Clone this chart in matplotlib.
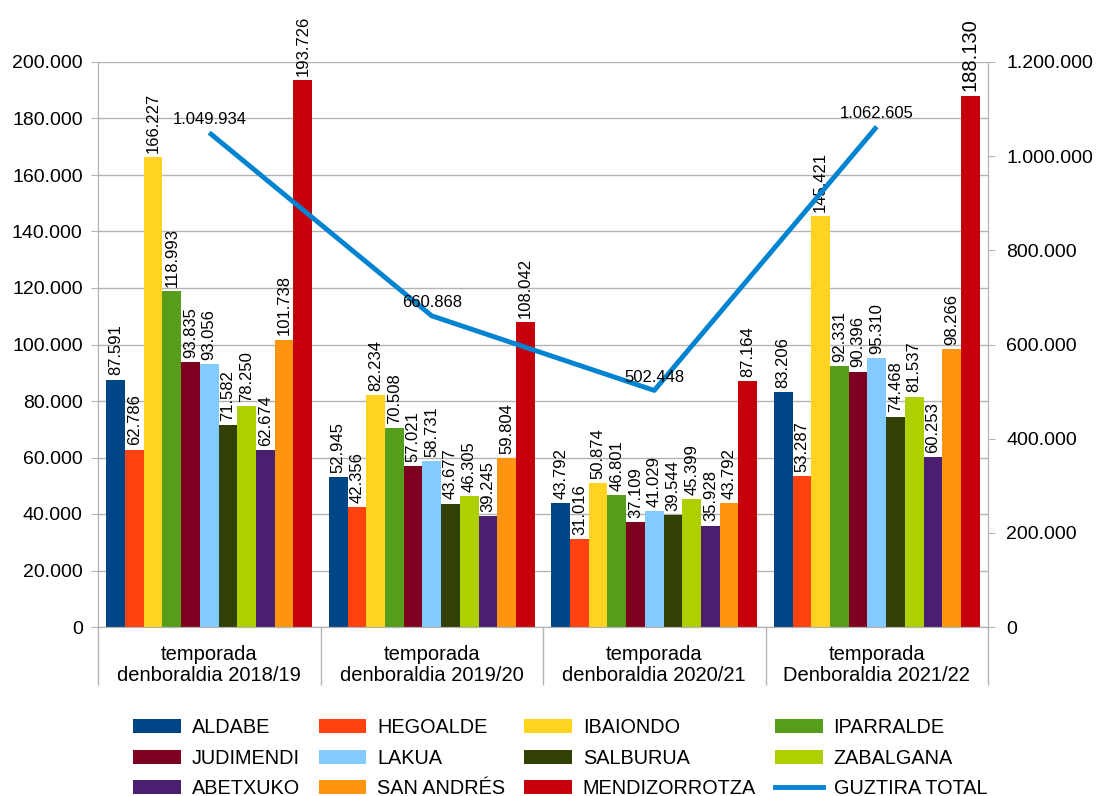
import matplotlib
matplotlib.use("Agg")
import matplotlib.pyplot as plt
import numpy as np
from matplotlib.ticker import FuncFormatter, FixedLocator
from matplotlib.patches import Patch
from matplotlib.lines import Line2D

plt.rcParams['font.family'] = ['Liberation Sans', 'DejaVu Sans']

categories = ["temporada\ndenboraldia 2018/19", "temporada\ndenboraldia 2019/20",
              "temporada\ndenboraldia 2020/21", "temporada\nDenboraldia 2021/22"]
series_names = ["ALDABE", "HEGOALDE", "IBAIONDO", "IPARRALDE", "JUDIMENDI", "LAKUA",
                "SALBURUA", "ZABALGANA", "ABETXUKO", "SAN ANDRÉS", "MENDIZORROTZA"]
colors = ["#004586", "#ff420e", "#ffd320", "#579d1c", "#7e0021", "#83caff",
          "#314004", "#aecf00", "#4b1f6f", "#ff950e", "#c5000b"]
values = [
    [87591, 52945, 43792, 83206],    # ALDABE
    [62786, 42356, 31016, 53287],    # HEGOALDE
    [166227, 82234, 50874, 145421],  # IBAIONDO
    [118993, 70508, 46801, 92331],   # IPARRALDE
    [93835, 57021, 37109, 90396],    # JUDIMENDI
    [93056, 58731, 41029, 95310],    # LAKUA
    [71582, 43677, 39544, 74468],    # SALBURUA
    [78250, 46305, 45399, 81537],    # ZABALGANA
    [62674, 39245, 35928, 60253],    # ABETXUKO
    [101738, 59804, 43792, 98266],   # SAN ANDRÉS
    [193726, 108042, 87164, 188130], # MENDIZORROTZA
]
total_name = "GUZTIRA TOTAL"
total_color = "#0084d1"
totals = [1049934, 660868, 502448, 1062605]

def fmt(v):
    return f"{int(v):,}".replace(",", ".")

grid_c = "#b3b3b3"
fig = plt.figure(figsize=(10.96, 7.96), dpi=100)
ax = fig.add_axes([98/1096, 1-627/796, 890/1096, 565/796])
ax2 = ax.twinx()

n = len(series_names)
x = np.arange(len(categories))
group_w = 0.925
bw = group_w / n
for i, (name, col, vals) in enumerate(zip(series_names, colors, values)):
    xs = x - group_w/2 + bw*(i+0.5)
    ax.bar(xs, vals, width=bw, color=col, zorder=2)
    for xi, v, ci in zip(xs, vals, range(len(vals))):
        fs = 14.5 if (i == n-1 and ci == 3) else 12
        ax.annotate(fmt(v), (xi, v), xytext=(0, 3), textcoords="offset points",
                    rotation=90, ha="center", va="bottom", fontsize=fs, color="#000000", zorder=3)

ax.set_xlim(-0.5, len(categories)-0.5)
ax.set_ylim(0, 200000)
ax.yaxis.set_major_locator(FixedLocator(np.arange(0, 200001, 20000)))
ax.yaxis.set_major_formatter(FuncFormatter(lambda v, p: fmt(v)))
ax.grid(axis="y", color=grid_c, linewidth=1, zorder=0)
ax.set_axisbelow(True)
ax.set_xticks(x)
ax.set_xticklabels(categories, fontsize=14.5, linespacing=1.1)
ax.set_xticks(np.arange(-0.5, len(categories), 1), minor=True)
ax.tick_params(axis="x", which="major", length=0, pad=13)
ax.tick_params(axis="x", which="minor", length=42, color=grid_c, width=1)
ax.tick_params(axis="y", length=5, color=grid_c, labelsize=14, pad=6)
for s in ["left", "bottom", "right"]:
    ax.spines[s].set_color(grid_c)
ax.spines["top"].set_visible(False)

ax2.plot(x, totals, color=total_color, linewidth=3.5, zorder=5, solid_capstyle="butt")
for xi, t in zip(x, totals):
    ax2.annotate(fmt(t), (xi, t), xytext=(0, 4), textcoords="offset points",
                 ha="center", va="bottom", fontsize=12, color="#000000", zorder=6)
ax2.set_ylim(0, 1200000)
ax2.yaxis.set_major_locator(FixedLocator(np.arange(0, 1200001, 200000)))
ax2.yaxis.set_major_formatter(FuncFormatter(lambda v, p: fmt(v)))
ax2.tick_params(axis="y", length=5, color=grid_c, labelsize=14, pad=8)
for s in ["left", "bottom", "right"]:
    ax2.spines[s].set_color(grid_c)
ax2.spines["top"].set_visible(False)

handles = [Patch(facecolor=c, label=nm) for nm, c in zip(series_names, colors)]
handles.append(Line2D([0], [0], color=total_color, linewidth=3.5, label=total_name))
ncol = 4
rows = [handles[r*ncol:(r+1)*ncol] for r in range(3)]
ordered = [rows[r][c] for c in range(ncol) for r in range(3)]
fig.legend(handles=ordered, labels=[h.get_label() for h in ordered], ncol=ncol,
           loc="lower center", bbox_to_anchor=(0.511, -0.025), frameon=False, fontsize=14.3,
           handlelength=2.4, handleheight=0.7, columnspacing=0.95, labelspacing=0.58,
           handletextpad=0.55)

fig.savefig("out.png", dpi=100)
